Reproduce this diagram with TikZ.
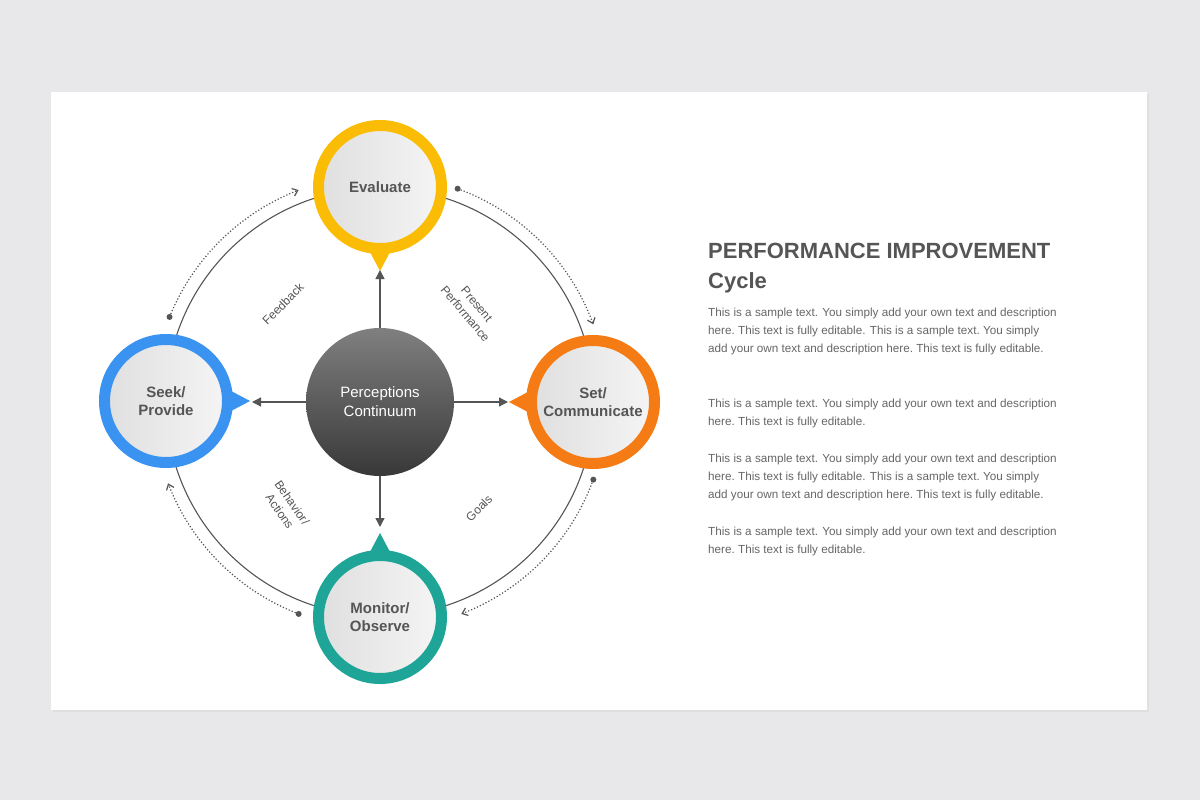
\documentclass[tikz,border=0pt]{standalone}
\usepackage{fontspec}
\setmainfont{Liberation Sans}
\usetikzlibrary{arrows.meta,calc}
\definecolor{pageg}{HTML}{E8E7E9}
\definecolor{txtg}{HTML}{555555}
\definecolor{bodyg}{HTML}{666666}
\definecolor{cyel}{HTML}{FBBC05}
\definecolor{cora}{HTML}{F57C14}
\definecolor{cteal}{HTML}{1FA597}
\definecolor{cblue}{HTML}{3A93F0}
\tikzset{
  ring/.style    = {draw=#1, line width=11pt, circle, minimum size=123pt,
                    left color=gray!25, right color=gray!8, inner sep=0pt,
                    font=\bfseries\fontsize{15}{18}\selectfont, text=txtg, align=center},
  spoke/.style   = {draw=txtg, line width=1.3pt, -{Triangle[length=9pt,width=9pt]}},
  dotarc/.style  = {draw=txtg, line width=1.2pt, dotted, -{Straight Barb[length=5pt,width=8pt]}},
  lbl/.style     = {text=txtg, font=\fontsize{12}{15}\selectfont, align=center},
  para/.style    = {anchor=north west, inner sep=0pt, text=bodyg, align=left,
                    font=\fontsize{11.7}{18}\selectfont}
}
\newcommand{\pointer}[4]{% centre, angle, colour
  \fill[#3] ($(#1)+(#2:84)$) -- ($(#1)+(#2+13:60)$) -- ($(#1)+(#2-13:60)$) -- cycle;
}
\begin{document}
\begin{tikzpicture}[x=1pt,y=-1pt]
  \fill[pageg] (0,0) rectangle (1200,800);
  \fill[black!12] (53,94) rectangle (1149,712);
  \fill[white] (51,92) rectangle (1147,710);
  % main cycle
  \coordinate (mid) at (380,402);
  \draw[txtg, line width=1.1pt] (mid) circle[radius=214];
  % dotted arcs
  \foreach \a/\b in {-70/-20, 20/69, 111/159, 202/249}{
    \fill[txtg] ($(mid)+(\a:227)$) circle[radius=3];
    \draw[dotarc] plot[domain=\a:\b, samples=40, smooth] ({380+227*cos(\x)},{402+227*sin(\x)});
  }
  % pointers
  \pointer{380,187}{90}{cyel}{}
  \pointer{593,402}{180}{cora}{}
  \pointer{380,617}{270}{cteal}{}
  \pointer{166,401}{0}{cblue}{}
  % stages
  \node[ring=cyel]  (eval) at (380,187) {Evaluate};
  \node[ring=cora]  (setc) at (593,402) {Set/\\Communicate};
  \node[ring=cteal] (moni) at (380,617) {Monitor/\\Observe};
  \node[ring=cblue] (seek) at (166,401) {Seek/\\Provide};
  % centre
  \node[circle, minimum size=148pt, inner sep=0pt, top color=black!50, bottom color=black!78,
        text=white, font=\fontsize{15}{19}\selectfont, align=center] (core) at (mid) {Perceptions\\Continuum};
  \coordinate (tup)    at (380,270);
  \coordinate (tright) at (508,402);
  \coordinate (tdown)  at (380,527);
  \coordinate (tleft)  at (252,402);
  \draw[spoke] (core) -- (tup);
  \draw[spoke] (core) -- (tright);
  \draw[spoke] (core) -- (tdown);
  \draw[spoke] (core) -- (tleft);
  % labels
  \node[lbl, rotate=45]  (fb)  at (283,304) {Feedback};
  \node[lbl, rotate=-50] (pp)  at (471,309) {Present\\Performance};
  \node[lbl, rotate=-55] (ba)  at (286,507) {Behavior/\\Actions};
  \node[lbl, rotate=45]  (gl)  at (479,508) {Goals};
  % text block
  \node[anchor=west, inner sep=0pt, text=txtg, align=left,
        font=\bfseries\fontsize{22}{30}\selectfont] (title) at (708,268)
        {PERFORMANCE IMPROVEMENT\\Cycle};
  \node[para] (p1) at (708,308) {This is a sample text. You simply add your own text and description\\here.\ This text is fully editable. This is a sample text.\ You simply\\add your own text and description here.\ This text is fully editable.};
  \node[para] (p2) at (708,399) {This is a sample text. You simply add your own text and description\\here.\ This text is fully editable.};
  \node[para] (p3) at (708,454) {This is a sample text. You simply add your own text and description\\here.\ This text is fully editable. This is a sample text.\ You simply\\add your own text and description here.\ This text is fully editable.};
  \node[para] (p4) at (708,527) {This is a sample text. You simply add your own text and description\\here.\ This text is fully editable.};
\end{tikzpicture}
\end{document}
